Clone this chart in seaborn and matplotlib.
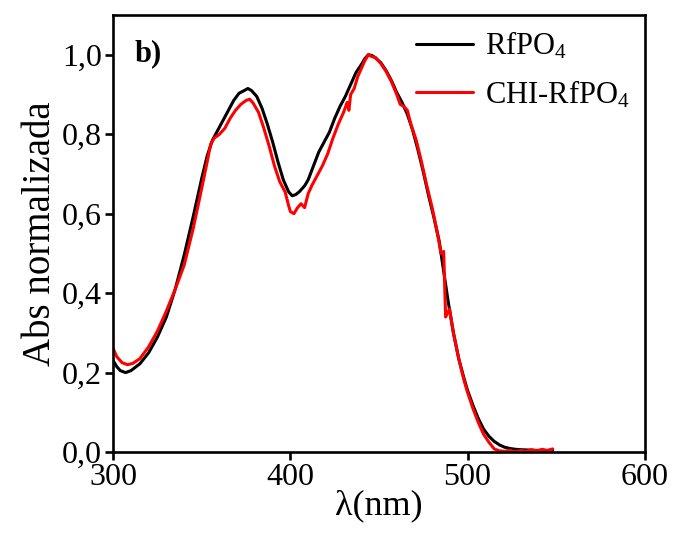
import matplotlib
matplotlib.use("Agg")
import matplotlib.pyplot as plt
import seaborn as sns
import pandas as pd
from matplotlib.ticker import FuncFormatter, MultipleLocator

# ── Data ──────────────────────────────────────────────────────────────────────
wl_rf = [300, 302, 304, 307, 310, 315, 320, 325, 330, 335, 340, 345, 350, 353,
         356, 359, 362, 365, 368, 371, 374, 376, 378, 381, 384, 387, 390, 393,
         396, 399, 401, 403, 405, 408, 410, 413, 416, 419, 422, 425, 428, 431,
         434, 437, 440, 442, 444, 446, 448, 451, 454, 457, 460, 463, 466, 469,
         472, 475, 478, 481, 484, 485, 487, 489, 492, 495, 498, 500, 503, 506,
         509, 512, 515, 518, 521, 524, 527, 530, 535, 540, 545, 548]
abs_rf = [0.230, 0.215, 0.205, 0.200, 0.205, 0.222, 0.250, 0.290, 0.340, 0.410,
          0.495, 0.590, 0.690, 0.745, 0.785, 0.810, 0.835, 0.860, 0.885, 0.903,
          0.910, 0.915, 0.910, 0.895, 0.865, 0.825, 0.780, 0.730, 0.685, 0.655,
          0.645, 0.648, 0.655, 0.670, 0.685, 0.720, 0.755, 0.780, 0.805, 0.840,
          0.870, 0.895, 0.925, 0.955, 0.975, 0.990, 1.000, 0.998, 0.992, 0.980,
          0.960, 0.935, 0.905, 0.880, 0.850, 0.810, 0.760, 0.705, 0.645, 0.590,
          0.530, 0.500, 0.440, 0.380, 0.300, 0.235, 0.185, 0.155, 0.118, 0.085,
          0.058, 0.040, 0.027, 0.018, 0.012, 0.009, 0.007, 0.006, 0.005, 0.004,
          0.004, 0.005]

wl_chi = [300, 302, 305, 308, 311, 315, 320, 325, 330, 335, 340, 345, 350, 353,
          355, 357, 360, 363, 366, 369, 372, 375, 377, 379, 382, 385, 388, 391,
          394, 397, 399, 400, 402, 404, 406, 408, 410, 412, 415, 418, 421, 424,
          427, 430, 432, 433, 434, 436, 438, 440, 442, 444, 446, 448, 451, 454,
          457, 460, 462, 464, 466, 468, 471, 474, 477, 480, 483, 485, 486.5,
          487.6, 489.8, 492, 495, 498, 500, 503, 506, 509, 512, 515, 518, 521,
          524, 527, 530, 533, 536, 539, 542, 545, 548]
abs_chi = [0.260, 0.240, 0.225, 0.220, 0.223, 0.235, 0.265, 0.305, 0.355, 0.410,
           0.470, 0.560, 0.665, 0.730, 0.775, 0.790, 0.800, 0.815, 0.840, 0.860,
           0.875, 0.885, 0.888, 0.878, 0.855, 0.815, 0.770, 0.720, 0.680, 0.655,
           0.620, 0.605, 0.600, 0.615, 0.625, 0.615, 0.650, 0.670, 0.695, 0.720,
           0.750, 0.790, 0.825, 0.855, 0.880, 0.860, 0.900, 0.915, 0.945, 0.965,
           0.985, 1.000, 0.995, 0.993, 0.978, 0.958, 0.932, 0.900, 0.875, 0.870,
           0.860, 0.825, 0.785, 0.730, 0.670, 0.615, 0.550, 0.500, 0.505, 0.340,
           0.360, 0.300, 0.235, 0.180, 0.150, 0.110, 0.075, 0.045, 0.025, 0.008,
           0.003, 0.002, 0.004, 0.001, 0.004, 0.002, 0.006, 0.003, 0.007, 0.004,
           0.008]

series_labels = [r"RfPO$_4$", r"CHI-RfPO$_4$"]
series_colors = ["black", "#ff0000"]

# ── Style ─────────────────────────────────────────────────────────────────────
sns.set_style("ticks")
plt.rcParams["font.family"] = ["Liberation Serif", "DejaVu Serif"]
plt.rcParams["mathtext.fontset"] = "custom"
plt.rcParams["mathtext.rm"] = "Liberation Serif"
plt.rcParams["mathtext.default"] = "regular"
plt.rcParams["axes.linewidth"] = 1.9
plt.rcParams["axes.edgecolor"] = "black"
plt.rcParams["text.color"] = "black"
plt.rcParams["axes.labelcolor"] = "black"
plt.rcParams["xtick.color"] = "black"
plt.rcParams["ytick.color"] = "black"

fig = plt.figure(figsize=(6.78, 5.35), dpi=100)
ax = fig.add_axes([0.167, 0.155, 0.784, 0.817])

df_rf = pd.DataFrame({"wl": wl_rf, "abs": abs_rf})
df_chi = pd.DataFrame({"wl": wl_chi, "abs": abs_chi})

for df, lab, col in zip([df_rf, df_chi], series_labels, series_colors):
    sns.lineplot(data=df, x="wl", y="abs", ax=ax, color=col, linewidth=2.2,
                 label=lab, estimator=None, sort=False)

ax.set_xlim(300, 600)
ax.set_ylim(0, 1.10)
ax.xaxis.set_major_locator(MultipleLocator(100))
ax.yaxis.set_major_locator(MultipleLocator(0.2))
ax.yaxis.set_major_formatter(FuncFormatter(lambda v, p: f"{v:.1f}".replace(".", ",")))
ax.tick_params(axis="both", direction="out", length=6, width=1.9,
               labelsize=23, pad=2)

ax.set_xlabel("λ(nm)", fontsize=26, labelpad=-2)
ax.set_ylabel("Abs normalizada", fontsize=28, labelpad=2)

ax.text(0.04, 0.945, "b)", transform=ax.transAxes, fontsize=22,
        fontweight="bold", va="top", ha="left")

leg = ax.legend(loc="upper right", frameon=False, fontsize=22,
                handlelength=1.85, handletextpad=0.4, labelspacing=0.55,
                borderaxespad=0.1, bbox_to_anchor=(1.0, 1.0))

fig.savefig("out.png", dpi=100)
